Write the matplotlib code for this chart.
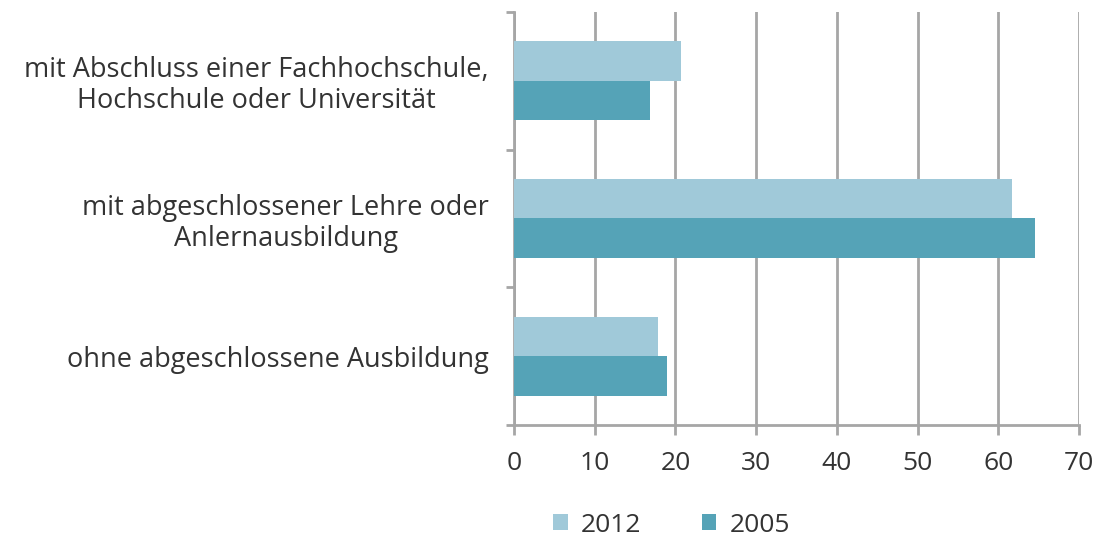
import numpy as np
import matplotlib.pyplot as plt

categories = [
    "mit Abschluss einer Fachhochschule,\nHochschule oder Universität",
    "mit abgeschlossener Lehre oder\nAnlernausbildung",
    "ohne abgeschlossene Ausbildung",
]
series_names = ["2012", "2005"]
values_2012 = [20.7, 61.7, 17.8]
values_2005 = [16.9, 64.5, 19.0]
colors = ["#a0c9d9", "#55a3b7"]

plt.rcParams["font.family"] = ["Open Sans", "DejaVu Sans"]
text_color = "#333333"
grid_color = "#a6a6a6"

fig = plt.figure(figsize=(11.01, 5.44), dpi=100)
ax = fig.add_axes([0.4668, 0.2188, 0.5132, 0.7592])

n = len(categories)
y = np.arange(n)
h = 0.287
ax.barh(y - h / 2, values_2012, height=h, color=colors[0], label=series_names[0], zorder=3)
ax.barh(y + h / 2, values_2005, height=h, color=colors[1], label=series_names[1], zorder=3)

ax.set_xlim(0, 70)
ax.set_ylim(n - 0.5, -0.5)
ax.set_xticks(np.arange(0, 71, 10))
ax.xaxis.grid(True, color=grid_color, linewidth=2, zorder=0)

ax.set_yticks(y)
ax.set_yticklabels(categories, multialignment="center", linespacing=1.15)
ax.set_yticks(np.arange(-0.5, n, 1), minor=True)
ax.tick_params(axis="y", which="major", length=0, pad=18, labelsize=19.5, labelcolor=text_color)
ax.tick_params(axis="y", which="minor", length=6, width=2, color=grid_color)
ax.tick_params(axis="x", length=7, width=2, color=grid_color, labelsize=19,
               labelcolor=text_color, pad=12)

for s in ["top", "right"]:
    ax.spines[s].set_visible(False)
for s in ["left", "bottom"]:
    ax.spines[s].set_color(grid_color)
    ax.spines[s].set_linewidth(2)

leg = fig.legend(loc="lower center", bbox_to_anchor=(0.61, -0.032), ncol=2, frameon=False,
                 fontsize=19, handlelength=0.55, handleheight=0.55, columnspacing=2.3,
                 handletextpad=0.5)
for t in leg.get_texts():
    t.set_color(text_color)

fig.savefig("out.png", dpi=100)
